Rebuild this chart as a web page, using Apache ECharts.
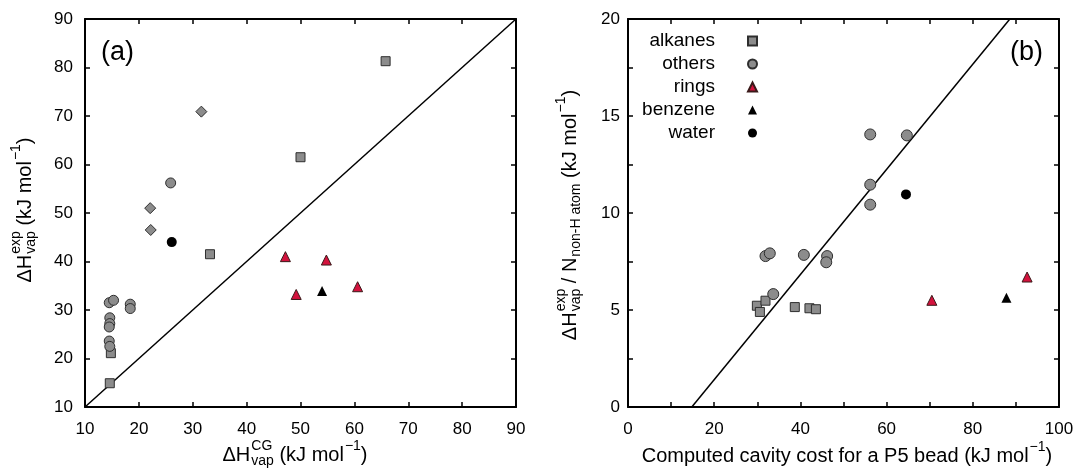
<!DOCTYPE html>
<html>
<head>
<meta charset="utf-8">
<script src="https://cdn.jsdelivr.net/npm/echarts@6/dist/echarts.min.js"></script>
<style>
  html, body { margin: 0; padding: 0; background: #fff; }
  #chart { width: 1079px; height: 470px; }
</style>
</head>
<body>
<div id="chart"></div>
<script>
// panel (a): experimental vs CG vaporisation enthalpy
const alkanesA = [[14.6, 14.9], [14.8, 21.1], [33.2, 41.5], [50.0, 61.5], [65.8, 81.3]]
const othersA = [[14.5, 31.5], [15.3, 32.0], [18.4, 31.2], [18.4, 30.3], [14.6, 28.4],
  [14.6, 27.2], [14.5, 26.5], [14.5, 23.6], [14.6, 22.5], [25.9, 56.2]]
const diamondsA = [[22.2, 46.5], [22.1, 51.0], [31.6, 70.9]]
const ringsA = [[47.2, 41.0], [49.2, 33.2], [54.8, 40.3], [60.6, 34.8]]
const benzeneA = [[54.0, 33.9]]
const waterA = [[26.1, 44.0]]
const diagonalA = [[10, 10], [90, 90]]

// panel (b): per heavy atom vs cavity cost
const alkanesB = [[29.9, 5.22], [30.6, 4.90], [31.9, 5.48], [38.7, 5.15], [42.1, 5.09], [43.6, 5.04]]
const othersB = [[33.7, 5.82], [31.9, 7.78], [32.9, 7.92], [40.8, 7.84], [46.2, 7.78],
  [46.0, 7.46], [56.2, 10.43], [56.2, 11.46], [56.2, 14.05], [64.7, 14.0]]
const ringsB = [[70.5, 5.5], [92.6, 6.7]]
const benzeneB = [[87.8, 5.63]]
const waterB = [[64.5, 10.96]]
const fitLineB = [[14.8, 0], [88.6, 20]]

const legendNames = ['alkanes', 'others', 'rings', 'benzene', 'water']

const FONT = '"Liberation Sans", Arial, Helvetica, sans-serif'
const chart = echarts.init(document.getElementById('chart'))

// measure text so sub/superscripts can be placed after each piece
const measureCtx = document.createElement('canvas').getContext('2d')
function textWidth(s, size) {
  measureCtx.font = size + 'px ' + FONT
  return measureCtx.measureText(s).width
}

function txt(s, x, y, size) {
  return {
    type: 'text', x: x, y: y,
    style: {
      text: s, fontSize: size, fontFamily: FONT, fill: '#000',
      textVerticalAlign: 'middle', verticalAlign: 'middle'
    }
  }
}

// pieces: plain strings, or {sup, sub} stacked at the same spot
function mathTitle(pieces, x, y, rotation, size) {
  const small = Math.round(size * 0.7)
  const children = []
  let cx = 0
  pieces.forEach(p => {
    if (typeof p === 'string') {
      children.push(txt(p, cx, 0, size))
      cx += textWidth(p, size)
    } else {
      let w = 0
      if (p.sup) {
        children.push(txt(p.sup, cx + 1, -size * 0.45, small))
        w = Math.max(w, textWidth(p.sup, small) + 1)
      }
      if (p.sub) {
        children.push(txt(p.sub, cx + 1, size * 0.32, small))
        w = Math.max(w, textWidth(p.sub, small) + 1)
      }
      cx += w
    }
  })
  children.forEach(c => { c.x -= cx / 2 })
  return { type: 'group', x: x, y: y, rotation: rotation, children: children }
}

const axisLine = { show: true, onZero: false, lineStyle: { color: '#000', width: 2 } }
const axisTick = { show: true, inside: true, length: 5, lineStyle: { color: '#000', width: 1.5 } }
const noSplit = { show: false }
const labelStyle = { fontSize: 17, color: '#000', fontFamily: FONT }

const grey = { color: '#8c8c8c', borderColor: '#2e2e2e', borderWidth: 1, opacity: 1 }
const red = { color: '#d3123d', borderColor: '#3a1a1a', borderWidth: 1, opacity: 1 }
const black = { color: '#000', opacity: 1 }

function scatter(name, data, grid, symbol, size, style) {
  return {
    name: name, type: 'scatter', xAxisIndex: grid * 2, yAxisIndex: grid * 2,
    data: data, symbol: symbol, symbolSize: size, itemStyle: style, z: 3
  }
}

function refLine(data, grid) {
  return {
    type: 'line', xAxisIndex: grid * 2, yAxisIndex: grid * 2, data: data,
    showSymbol: false, symbol: 'none', silent: true, z: 1,
    lineStyle: { color: '#000', width: 1.5 }
  }
}

const option = {
  animation: false,
  backgroundColor: '#fff',
  grid: [
    { left: 85, top: 19, width: 431, height: 388 },
    { left: 628, top: 19, width: 431, height: 388 }
  ],
  legend: {
    data: legendNames,
    orient: 'vertical',
    align: 'right',
    right: 321,
    top: 31,
    padding: 0,
    itemGap: 3,
    itemWidth: 9,
    itemHeight: 9,
    textStyle: { fontSize: 19, color: '#000', fontFamily: FONT, lineHeight: 20, padding: [0, 28, 0, 0] }
  },
  xAxis: [
    { gridIndex: 0, type: 'value', min: 10, max: 90, interval: 10, axisLine, axisTick,
      splitLine: noSplit, axisLabel: Object.assign({ margin: 14 }, labelStyle) },
    { gridIndex: 0, type: 'value', position: 'top', min: 10, max: 90, interval: 10, axisLine, axisTick,
      splitLine: noSplit, axisLabel: { show: false } },
    { gridIndex: 1, type: 'value', min: 0, max: 100, interval: 10, axisLine, axisTick,
      splitLine: noSplit,
      axisLabel: Object.assign({ margin: 14, formatter: v => (v % 20 === 0 ? String(v) : '') }, labelStyle) },
    { gridIndex: 1, type: 'value', position: 'top', min: 0, max: 100, interval: 10, axisLine, axisTick,
      splitLine: noSplit, axisLabel: { show: false } }
  ],
  yAxis: [
    { gridIndex: 0, type: 'value', min: 10, max: 90, interval: 10, axisLine, axisTick,
      splitLine: noSplit, axisLabel: Object.assign({ margin: 12 }, labelStyle) },
    { gridIndex: 0, type: 'value', position: 'right', min: 10, max: 90, interval: 10, axisLine, axisTick,
      splitLine: noSplit, axisLabel: { show: false } },
    { gridIndex: 1, type: 'value', min: 0, max: 20, interval: 2.5, axisLine, axisTick,
      splitLine: noSplit,
      axisLabel: Object.assign({ margin: 8, formatter: v => (v % 5 === 0 ? String(v) : '') }, labelStyle) },
    { gridIndex: 1, type: 'value', position: 'right', min: 0, max: 20, interval: 2.5, axisLine, axisTick,
      splitLine: noSplit, axisLabel: { show: false } }
  ],
  graphic: [
    txt('(a)', 101, 53, 27),
    txt('(b)', 1010, 53, 27),
    mathTitle(['ΔH', { sup: 'CG', sub: 'vap' }, ' (kJ mol', { sup: '−1' }, ')'], 295, 455, 0, 20),
    mathTitle(['ΔH', { sup: 'exp', sub: 'vap' }, ' (kJ mol', { sup: '−1' }, ')'], 25, 210, Math.PI / 2, 20),
    mathTitle(['Computed cavity cost for a P5 bead (kJ mol', { sup: '−1' }, ')'], 847, 456, 0, 20),
    mathTitle(['ΔH', { sup: 'exp', sub: 'vap' }, ' / N', { sub: 'non-H atom' }, ' (kJ mol', { sup: '−1' }, ')'],
      570, 215, Math.PI / 2, 20)
  ],
  series: [
    refLine(diagonalA, 0),
    scatter('alkanes', alkanesA, 0, 'rect', 9, grey),
    scatter('others', othersA, 0, 'circle', 10, grey),
    scatter('others (diamond)', diamondsA, 0, 'diamond', 11, grey),
    scatter('rings', ringsA, 0, 'triangle', 10, red),
    scatter('benzene', benzeneA, 0, 'triangle', 10, black),
    scatter('water', waterA, 0, 'circle', 10, black),
    refLine(fitLineB, 1),
    scatter('alkanes', alkanesB, 1, 'rect', 9, grey),
    scatter('others', othersB, 1, 'circle', 11, grey),
    scatter('rings', ringsB, 1, 'triangle', 10, red),
    scatter('benzene', benzeneB, 1, 'triangle', 10, black),
    scatter('water', waterB, 1, 'circle', 10, black)
  ]
}

chart.setOption(option)
window.addEventListener('resize', () => chart.resize())
</script>
</body>
</html>
